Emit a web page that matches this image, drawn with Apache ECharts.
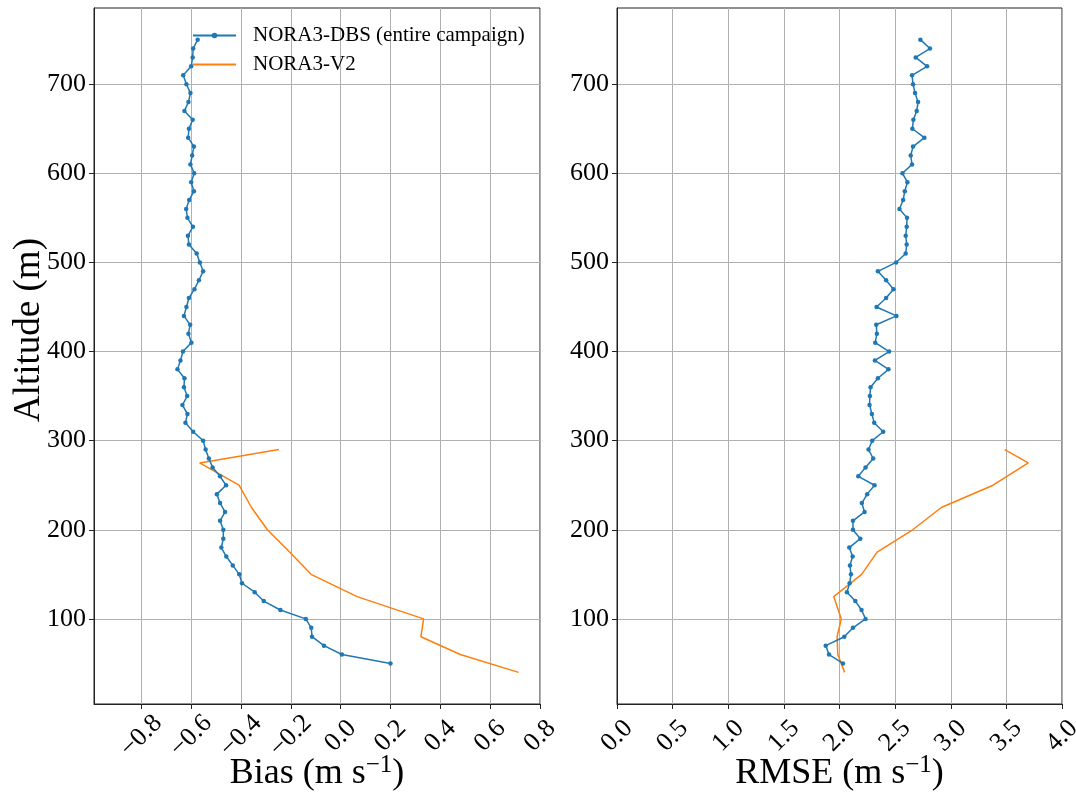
<!DOCTYPE html>
<html>
<head>
<meta charset="utf-8">
<script src="https://cdn.jsdelivr.net/npm/echarts@6/dist/echarts.min.js"></script>
<style>
html,body{margin:0;padding:0;background:#fff;}
#chart{width:1076px;height:801px;}
</style>
</head>
<body>
<div id="chart"></div>
<script>
// Altitudes (m) for NORA3-DBS, 50..750
const altDBS = [50,60,70,80,90,100,110,120,130,140,150,160,170,180,190,200,210,220,230,240,250,260,270,280,290,300,310,320,330,340,350,360,370,380,390,400,410,420,430,440,450,460,470,480,490,500,510,520,530,540,550,560,570,580,590,600,610,620,630,640,650,660,670,680,690,700,710,720,730,740,750];
const biasDBS = [0.200,0.005,-0.067,-0.115,-0.118,-0.140,-0.242,-0.309,-0.345,-0.396,-0.407,-0.433,-0.459,-0.479,-0.471,-0.471,-0.484,-0.464,-0.484,-0.497,-0.460,-0.484,-0.514,-0.529,-0.542,-0.552,-0.592,-0.623,-0.615,-0.635,-0.616,-0.629,-0.627,-0.655,-0.643,-0.633,-0.599,-0.611,-0.604,-0.629,-0.619,-0.609,-0.587,-0.569,-0.552,-0.565,-0.578,-0.609,-0.613,-0.593,-0.615,-0.620,-0.608,-0.589,-0.600,-0.588,-0.603,-0.596,-0.589,-0.612,-0.609,-0.594,-0.627,-0.611,-0.603,-0.619,-0.632,-0.600,-0.594,-0.592,-0.574];
const rmseDBS = [2.031,1.906,1.876,2.043,2.121,2.234,2.198,2.142,2.067,2.091,2.103,2.094,2.118,2.088,2.187,2.121,2.121,2.225,2.201,2.249,2.315,2.169,2.234,2.303,2.261,2.294,2.393,2.312,2.291,2.270,2.273,2.279,2.345,2.440,2.318,2.446,2.321,2.336,2.330,2.512,2.333,2.419,2.485,2.419,2.345,2.509,2.595,2.604,2.595,2.604,2.607,2.539,2.572,2.587,2.610,2.566,2.652,2.640,2.661,2.763,2.655,2.664,2.694,2.706,2.679,2.661,2.652,2.787,2.685,2.813,2.727];
// NORA3-V2
const altV2 = [40,60,80,100,125,150,175,200,225,250,275,290];
const biasV2 = [0.714,0.480,0.322,0.333,0.066,-0.119,-0.205,-0.294,-0.358,-0.408,-0.566,-0.248];
const rmseV2 = [2.046,1.985,1.978,2.016,1.948,2.199,2.338,2.658,2.915,3.380,3.697,3.485];
// tick values
const biasTicks = [-0.8,-0.6,-0.4,-0.2,0.0,0.2,0.4,0.6,0.8];
const altTicks = [100,200,300,400,500,600,700];
const nameDBS = 'NORA3-DBS (entire campaign)';
const nameV2 = 'NORA3-V2';

const FONT = '"Liberation Serif", "Times New Roman", serif';
const blue = '#1f77b4', orange = '#ff7f0e';

function pairs(xs, ys){ return xs.map((v,i)=>[v, ys[i]]); }
function fmt1(v){ const s = Math.abs(v).toFixed(1); return (v < -1e-9 ? '\u2212' : '') + s; }

const gridCommon = {top: 8, bottom: 97, show: true, borderColor: '#222', borderWidth: 1,
  containLabel: false, outerBoundsMode: 'none'};

const xLabel = {
  fontFamily: FONT, fontSize: 26, color: '#000', rotate: 45, align: 'center', verticalAlign: 'middle',
  margin: 32, formatter: v => fmt1(v)
};
const yLabel = { fontFamily: FONT, fontSize: 26, color: '#000', margin: 8, customValues: altTicks, formatter: v => String(Math.round(v)) };
const split = { show: true, lineStyle: { color: '#b0b0b0', width: 1 } };
const axLine = { show: true, onZero: false, lineStyle: { color: '#222', width: 1 } };
const tick = { show: true, length: 5, lineStyle: { color: '#222', width: 1 } };
const nameStyle = {
  fontFamily: FONT, fontSize: 36, color: '#000',
  rich: { sup: { fontFamily: FONT, fontSize: 25, color: '#000', padding: [0,0,16,0] },
          n: { fontFamily: FONT, fontSize: 36, color: '#000' } }
};

const option = {
  backgroundColor: '#fff',
  animation: false,
  grid: [
    Object.assign({ left: 94, right: 536 }, gridCommon),
    Object.assign({ left: 617, right: 14 }, gridCommon)
  ],
  legend: {
    left: 192, top: 25, orient: 'vertical', itemWidth: 43, itemHeight: 7, itemGap: 8, padding: 0,
    data: [ { name: nameDBS }, { name: nameV2, itemStyle: { opacity: 0 } } ],
    textStyle: { fontFamily: FONT, fontSize: 21, color: '#000', padding: [0,0,0,12] }
  },
  xAxis: [
    { gridIndex: 0, type: 'value', min: -0.99, max: 0.8,
      axisLabel: Object.assign({ customValues: biasTicks }, xLabel),
      axisTick: Object.assign({ customValues: biasTicks }, tick),
      axisLine: axLine, splitLine: split,
      name: '{n|Bias (m s}{sup|\u22121}{n|)}', nameLocation: 'middle', nameGap: 49, nameMoveOverlap: false,
      nameTextStyle: nameStyle },
    { gridIndex: 1, type: 'value', min: 0, max: 4, interval: 0.5,
      axisLabel: xLabel, axisTick: tick, axisLine: axLine, splitLine: split,
      name: '{n|RMSE (m s}{sup|\u22121}{n|)}', nameLocation: 'middle', nameGap: 49, nameMoveOverlap: false,
      nameTextStyle: nameStyle }
  ],
  yAxis: [
    { gridIndex: 0, type: 'value', min: 4.5, max: 785.5,
      axisLabel: yLabel, axisTick: Object.assign({ customValues: altTicks }, tick),
      axisLine: axLine, splitLine: split,
      name: 'Altitude (m)', nameLocation: 'middle', nameRotate: 90, nameGap: 46, nameMoveOverlap: false,
      nameTextStyle: { fontFamily: FONT, fontSize: 37, color: '#000', padding: [0,0,0,52] } },
    { gridIndex: 1, type: 'value', min: 4.5, max: 785.5,
      axisLabel: yLabel, axisTick: Object.assign({ customValues: altTicks }, tick),
      axisLine: axLine, splitLine: split }
  ],
  series: [
    { name: nameDBS, type: 'line', xAxisIndex: 0, yAxisIndex: 0, data: pairs(biasDBS, altDBS),
      color: blue, lineStyle: { width: 1.5, color: blue }, symbol: 'circle', symbolSize: 4.5,
      itemStyle: { color: blue }, z: 3 },
    { name: nameV2, type: 'line', xAxisIndex: 0, yAxisIndex: 0, data: pairs(biasV2, altV2),
      color: orange, lineStyle: { width: 1.5, color: orange }, symbol: 'none', showSymbol: false, z: 2 },
    { name: nameDBS, type: 'line', xAxisIndex: 1, yAxisIndex: 1, data: pairs(rmseDBS, altDBS),
      color: blue, lineStyle: { width: 1.5, color: blue }, symbol: 'circle', symbolSize: 4.5,
      itemStyle: { color: blue }, z: 3 },
    { name: nameV2, type: 'line', xAxisIndex: 1, yAxisIndex: 1, data: pairs(rmseV2, altV2),
      color: orange, lineStyle: { width: 1.5, color: orange }, symbol: 'none', showSymbol: false, z: 2 }
  ]
};

const chart = echarts.init(document.getElementById('chart'), null, { renderer: 'canvas' });
chart.setOption(option);
</script>
</body>
</html>
